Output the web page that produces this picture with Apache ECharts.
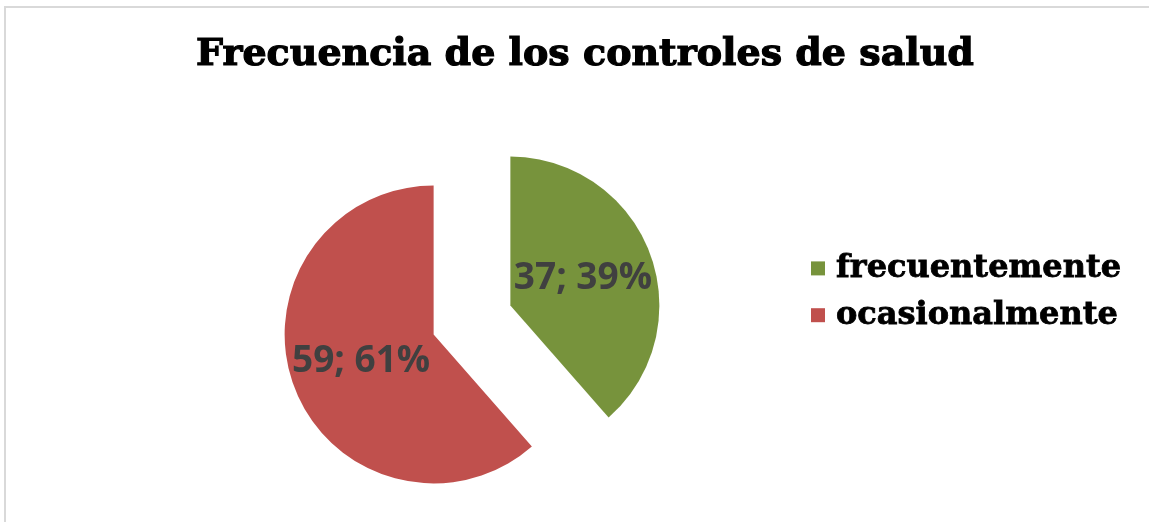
<!DOCTYPE html>
<html lang="es">
<head>
    <meta charset="UTF-8">
    <script type="text/javascript" src="https://cdn.jsdelivr.net/npm/echarts@6/dist/echarts.min.js"></script>
    <style>
        html, body { margin: 0; padding: 0; background: #fff; }
        #chart { width: 1149px; height: 522px; }
    </style>
</head>
<body>
    <div id="chart"></div>
<script>
    // datos
    var categorias = ['frecuentemente', 'ocasionalmente'];
    var valores = [37, 59];
    var colores = ['#77933C', '#C0504D'];

    var datos = [];
    for (var i = 0; i < categorias.length; i++) {
        datos.push({
            name: categorias[i],
            value: valores[i],
            selected: true,
            itemStyle: { color: colores[i] }
        });
    }

    var chart = echarts.init(document.getElementById('chart'));

    var option = {
        animation: false,
        backgroundColor: '#fff',
        graphic: [{
            type: 'polyline',
            shape: { points: [[5, 522], [5, 7], [1149, 7]] },
            style: { stroke: '#d9d9d9', lineWidth: 2, fill: null },
            silent: true
        }],
        title: {
            text: 'Frecuencia de los controles de salud',
            left: 580,
            textAlign: 'center',
            top: 31,
            textStyle: {
                fontFamily: 'DejaVu Serif',
                fontWeight: 'bold',
                fontSize: 38,
                color: '#000',
                textBorderColor: '#000',
                textBorderWidth: 1.2
            }
        },
        legend: {
            orient: 'vertical',
            left: 806,
            top: 247,
            icon: 'rect',
            itemWidth: 14,
            itemHeight: 14,
            itemGap: 14,
            selectedMode: false,
            data: categorias,
            textStyle: {
                fontFamily: 'DejaVu Serif',
                fontWeight: 'bold',
                fontSize: 32,
                color: '#000',
                textBorderColor: '#000',
                textBorderWidth: 0.8,
                padding: [0, 0, 0, 6]
            }
        },
        series: [{
            type: 'pie',
            center: [472, 320],
            radius: [0, 149],
            startAngle: 90,
            clockwise: true,
            selectedMode: 'multiple',
            selectedOffset: 41,
            percentPrecision: 0,
            avoidLabelOverlap: false,
            emphasis: { disabled: true },
            label: {
                show: true,
                position: 'inside',
                formatter: '{c}; {d}%',
                fontFamily: 'Open Sans',
                fontWeight: 'bold',
                fontSize: 37,
                color: '#404040'
            },
            labelLine: { show: false },
            data: datos
        }]
    };

    chart.setOption(option);
</script>
</body>
</html>
